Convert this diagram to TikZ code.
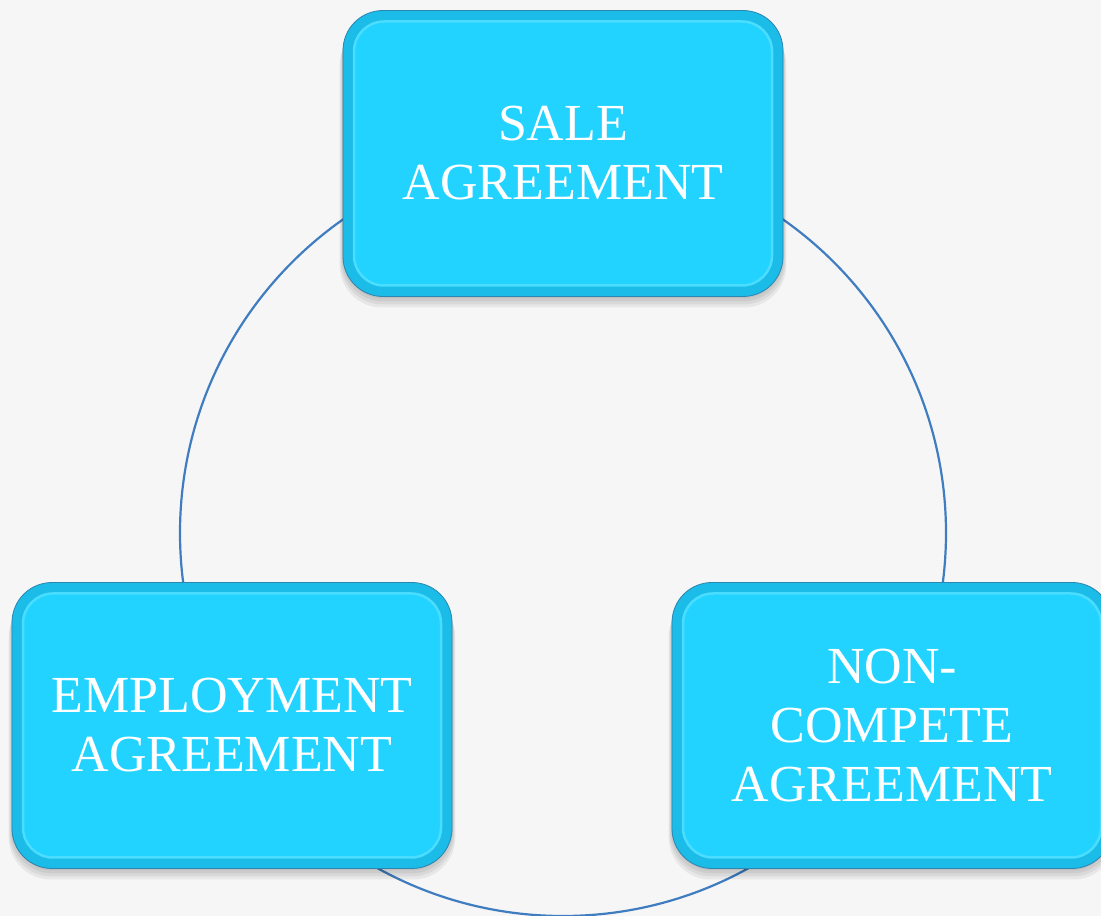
\documentclass[tikz,border=0pt]{standalone}
\usepackage{fontspec}
\setmainfont{Liberation Serif}
\begin{document}
\definecolor{bgcol}{HTML}{F6F6F6}
\definecolor{ringcol}{HTML}{3F7DC0}
\definecolor{boxedge}{HTML}{1BBCE8}
\definecolor{boxfill}{HTML}{23D3FF}
\definecolor{boxrim}{HTML}{4ADDFF}
\definecolor{boxline}{HTML}{2B86B0}
\begin{tikzpicture}[x=1pt,y=1pt,
  agbox/.style={rectangle, rounded corners=40pt, minimum width=440pt, minimum height=286pt,
    fill=boxedge, draw=boxline, line width=0.8pt, text=white, align=center,
    font=\fontsize{52}{59}\selectfont,
    path picture={
      \draw[boxrim, fill=boxfill, line width=2.5pt, rounded corners=30pt]
        ([shift={(11pt,11pt)}]path picture bounding box.south west) rectangle
        ([shift={(-11pt,-11pt)}]path picture bounding box.north east);
    }},
  shade/.style={fill=black, opacity=0.06, rounded corners=42pt}
]
\useasboundingbox (0,0) rectangle (1101,916);
\fill[bgcol] (0,0) rectangle (1101,916);

% ring joining the three agreements
\coordinate (hub) at (563,383);
\draw[ringcol, line width=2.2pt] (hub) circle[radius=383];

% soft shadows under the boxes
\foreach \cx/\cy in {563/762.5, 232/190.5, 892/190.5}{
  \foreach \d in {2,5,8,11}{
    \fill[shade] (\cx-220-\d*0.3, \cy-143-\d) rectangle (\cx+220+\d*0.3, \cy+143-\d*1.2);
  }
}

\node[agbox] (sale) at (563,762.5) {SALE\\AGREEMENT};
\node[agbox] (emp) at (232,190.5) {EMPLOYMENT\\AGREEMENT};
\node[agbox] (nc) at (892,190.5) {NON-\\COMPETE\\AGREEMENT};
\end{tikzpicture}
\end{document}
